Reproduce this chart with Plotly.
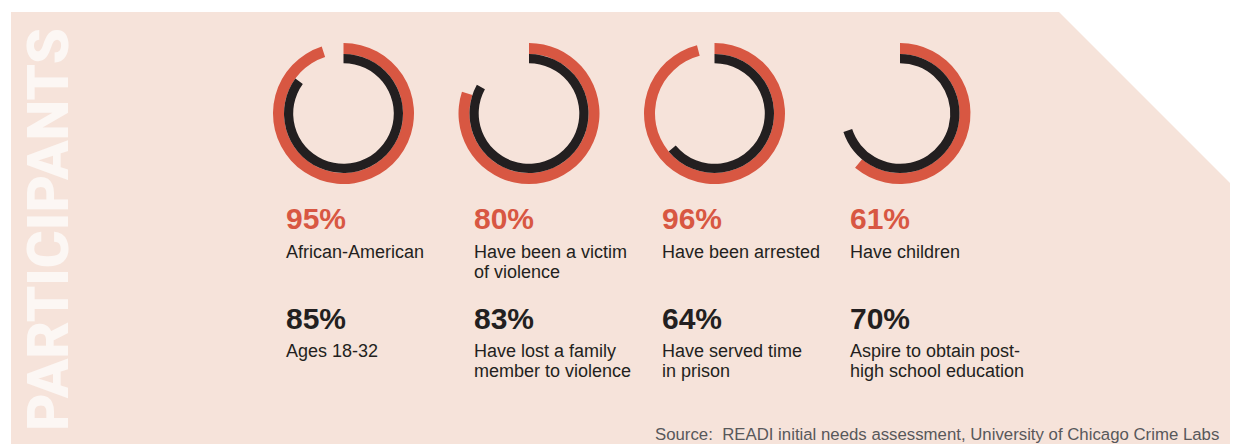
import plotly.graph_objects as go

W, H = 1234, 444

# ---- data ----
outer_pct = [95, 80, 96, 61]
outer_labels = ["African-American", "Have been a victim|of violence", "Have been arrested", "Have children"]
inner_pct = [85, 83, 64, 70]
inner_labels = ["Ages 18-32", "Have lost a family|member to violence", "Have served time|in prison",
                "Aspire to obtain post-|high school education"]
title_text = "PARTICIPANTS"
source_text = "Source:&nbsp; READI initial needs assessment, University of Chicago Crime Labs"

# ---- style ----
PINK = "#f6e3da"
RED = "#d85742"
BLACK = "#231f20"
GRAY = "#58585a"
TITLE_FONT = "Roboto, Liberation Sans, sans-serif"
FONT = "Liberation Sans, Arial, sans-serif"

centers_x = [343.5, 529, 714.5, 900]
center_y = 113.5
text_x = [284, 472, 660, 848]


def px(x):
    return x / W


def py(y):
    return 1 - y / H


fig = go.Figure()


def ring(cx, cy, r_out, r_in, pct, color):
    fig.add_trace(go.Pie(
        values=[pct, 100 - pct],
        marker=dict(colors=[color, "rgba(0,0,0,0)"], line=dict(width=0)),
        hole=r_in / r_out,
        sort=False, direction="clockwise", rotation=0,
        textinfo="none", hoverinfo="skip", showlegend=False,
        domain=dict(x=[px(cx - r_out), px(cx + r_out)], y=[py(cy + r_out), py(cy - r_out)]),
    ))


for i in range(4):
    ring(centers_x[i], center_y, 70.5, 59.5, outer_pct[i], RED)
    ring(centers_x[i], center_y, 59.5, 50.3, inner_pct[i], BLACK)

annotations = []


def txt(x, y, s, size, color, family=FONT, weight="normal", anchor="left"):
    annotations.append(dict(
        x=px(x), y=py(y), xref="paper", yref="paper", text=s, showarrow=False,
        xanchor=anchor, yanchor="middle", align="left",
        font=dict(family=family, size=size, color=color, weight=weight),
    ))


for i in range(4):
    txt(text_x[i], 218.5, f"{outer_pct[i]}%", 30, RED, weight="bold")
    for j, line in enumerate(outer_labels[i].split("|")):
        txt(text_x[i], 251.5 + 20 * j, line, 18, BLACK)
    txt(text_x[i], 318.5, f"{inner_pct[i]}%", 30, BLACK, weight="bold")
    for j, line in enumerate(inner_labels[i].split("|")):
        txt(text_x[i], 350.5 + 20 * j, line, 18, BLACK)

txt(653, 434.5, source_text, 16.8, GRAY)

annotations.append(dict(
    x=px(48), y=py(230), xref="paper", yref="paper", text=title_text, showarrow=False,
    textangle=-90, xanchor="center", yanchor="middle",
    font=dict(family=TITLE_FONT, size=58, color="#fcf7f4", weight=900),
))

shape_path = "M {x0},{y0} L {x1},{y0} L {x2},{y2} L {x2},{y3} L {x0},{y3} Z".format(
    x0=px(11), y0=py(12), x1=px(1059), x2=px(1230), y2=py(183), y3=py(444) - 0.01)

fig.update_layout(
    width=W, height=H, margin=dict(l=0, r=0, t=0, b=0),
    paper_bgcolor="white", plot_bgcolor="white",
    shapes=[dict(type="path", path=shape_path, xref="paper", yref="paper",
                 fillcolor=PINK, line=dict(width=0), layer="below")],
    annotations=annotations,
)

fig.write_html("out.html")
